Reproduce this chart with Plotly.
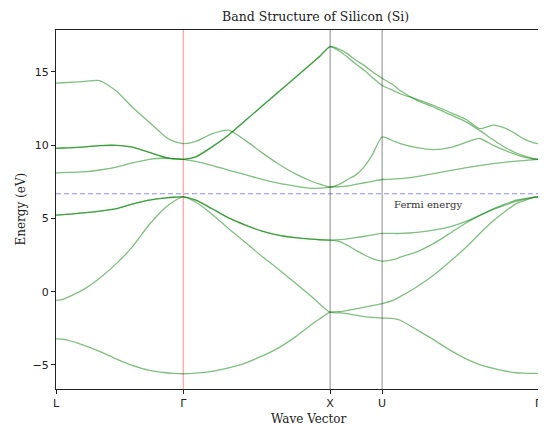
import plotly.graph_objects as go

# k-path positions (L, Gamma, X, U, Gamma) in units of 2*pi/a
sym_k = [0.0, 0.866, 1.866, 2.220, 3.281]
sym_labels = ["L", "Γ", "X", "U", "Γ"]

# sample points along the path
k = [0.000, 0.047, 0.182, 0.297, 0.412, 0.520, 0.635, 0.749, 0.803, 0.866,
     0.952, 1.060, 1.175, 1.289, 1.397, 1.512, 1.627, 1.735, 1.796, 1.866,
     1.938, 1.985, 2.039, 2.100, 2.154, 2.220,
     2.302, 2.343, 2.457, 2.572, 2.680, 2.795, 2.883, 2.977, 3.065, 3.133, 3.180, 3.247, 3.281]

band_1 = [-3.22, -3.24, -3.63, -4.08, -4.60, -5.03, -5.37, -5.53, -5.58, -5.60,
          -5.56, -5.44, -5.20, -4.87, -4.42, -3.85, -3.10, -2.27, -1.85, -1.40,
          -1.36, -1.28, -1.18, -1.06, -0.95, -0.82,
          -0.56, -0.34, 0.34, 1.14, 2.04, 3.06, 3.95, 4.83, 5.54, 6.01, 6.18, 6.42, 6.46]
band_2 = [-0.59, -0.52, 0.12, 0.92, 1.93, 3.06, 4.58, 5.78, 6.17, 6.46,
          6.10, 5.30, 4.30, 3.35, 2.45, 1.55, 0.60, -0.30, -0.85, -1.40,
          -1.45, -1.50, -1.60, -1.70, -1.76, -1.80,
          -1.84, -1.95, -2.61, -3.29, -3.97, -4.60, -4.97, -5.23, -5.43, -5.53, -5.56, -5.58, -5.58]
band_3 = [5.22, 5.25, 5.37, 5.50, 5.67, 5.97, 6.24, 6.40, 6.44, 6.46,
          6.24, 5.67, 5.03, 4.54, 4.15, 3.86, 3.68, 3.58, 3.54, 3.52,
          3.55, 3.60, 3.68, 3.78, 3.87, 3.97,
          3.97, 3.97, 4.04, 4.20, 4.42, 4.81, 5.20, 5.62, 5.93, 6.17, 6.28, 6.42, 6.46]
band_4 = [5.22, 5.25, 5.37, 5.50, 5.67, 5.97, 6.24, 6.40, 6.44, 6.46,
          6.24, 5.67, 5.03, 4.54, 4.15, 3.86, 3.68, 3.58, 3.54, 3.52,
          3.40, 3.15, 2.84, 2.50, 2.25, 2.09,
          2.20, 2.35, 2.72, 3.29, 3.97, 4.72, 5.19, 5.65, 6.00, 6.24, 6.33, 6.43, 6.46]
band_5 = [8.10, 8.12, 8.17, 8.30, 8.50, 8.78, 9.03, 9.10, 9.08, 9.03,
          8.89, 8.62, 8.28, 7.98, 7.67, 7.40, 7.20, 7.05, 7.06, 7.14,
          7.17, 7.22, 7.32, 7.43, 7.53, 7.65,
          7.69, 7.71, 7.85, 8.05, 8.25, 8.46, 8.60, 8.74, 8.84, 8.90, 8.94, 9.00, 9.03]
band_6 = [9.78, 9.80, 9.86, 9.96, 9.98, 9.86, 9.50, 9.14, 9.06, 9.03,
          9.20, 9.86, 10.69, 11.68, 12.61, 13.61, 14.60, 15.53, 16.06, 16.72,
          16.50, 16.22, 15.80, 15.42, 15.00, 14.56,
          14.05, 13.72, 13.05, 12.59, 12.09, 11.57, 11.00, 10.35, 9.80, 9.46, 9.28, 9.08, 9.03]
band_7 = [9.78, 9.80, 9.86, 9.96, 9.98, 9.86, 9.50, 9.14, 9.06, 9.03,
          9.20, 9.86, 10.69, 11.68, 12.61, 13.61, 14.60, 15.53, 16.06, 16.72,
          16.35, 15.99, 15.55, 15.08, 14.60, 14.06,
          13.70, 13.50, 13.12, 12.70, 12.24, 11.73, 11.12, 11.36, 11.12, 10.75, 10.44, 10.17, 10.10]
band_8 = [14.22, 14.25, 14.33, 14.40, 13.67, 12.58, 11.56, 10.54, 10.25, 10.10,
          10.25, 10.77, 11.02, 10.32, 9.52, 8.73, 8.05, 7.55, 7.33, 7.14,
          7.37, 7.65, 7.95, 8.55, 9.35, 10.55,
          10.25, 10.10, 9.82, 9.69, 9.82, 10.20, 10.45, 9.98, 9.60, 9.35, 9.20, 9.07, 9.03]

bands = [band_1, band_2, band_3, band_4, band_5, band_6, band_7, band_8]
fermi_energy = 6.68

serif = "DejaVu Serif"
sans = "DejaVu Sans"

fig = go.Figure()

# high-symmetry vertical lines
fig.add_shape(type="line", xref="x", yref="paper", x0=sym_k[1], x1=sym_k[1], y0=0, y1=1,
              line=dict(color="rgba(255,0,0,0.45)", width=1))
for kk in (sym_k[2], sym_k[3]):
    fig.add_shape(type="line", xref="x", yref="paper", x0=kk, x1=kk, y0=0, y1=1,
                  line=dict(color="rgba(0,0,0,0.45)", width=1))

for b in bands:
    fig.add_trace(go.Scatter(x=k, y=b, mode="lines",
                             line=dict(color="rgba(0,128,0,0.5)", width=1.3, shape="spline", smoothing=0.6),
                             showlegend=False, hoverinfo="skip"))

fig.add_shape(type="line", xref="paper", yref="y", x0=0, x1=1, y0=fermi_energy, y1=fermi_energy,
              line=dict(color="rgba(0,0,255,0.45)", width=1.2, dash="5px,3px"))

fig.add_annotation(x=2.289, y=5.97, xref="x", yref="y", text="Fermi energy", showarrow=False,
                   xanchor="left", yanchor="middle", font=dict(family=serif, size=10, color="#333"))

fig.add_annotation(x=0.539, y=1.0, xref="paper", yref="paper", yshift=14, text="Band Structure of Silicon (Si)",
                   showarrow=False, xanchor="center", yanchor="middle", font=dict(family=serif, size=12.5, color="#222"))
fig.add_annotation(x=0.525, y=0, xref="paper", yref="paper", yshift=-30, text="Wave Vector",
                   showarrow=False, xanchor="center", yanchor="middle", font=dict(family=serif, size=12, color="#222"))
fig.add_annotation(x=0, y=0.5, xref="paper", yref="paper", xshift=-36, text="Energy (eV)", textangle=-90,
                   showarrow=False, xanchor="center", yanchor="middle", font=dict(family=serif, size=12, color="#222"))

# the page body has an 8px margin, so the figure is sized to fill the rest of the window;
# the x axis may push the right margin just enough to keep the final Γ label visible
fig.update_layout(
    width=538, height=418,
    margin=dict(l=48, r=4, t=22, b=37),
    plot_bgcolor="white", paper_bgcolor="white",
    xaxis=dict(range=[sym_k[0], sym_k[-1]], tickvals=sym_k, ticktext=sym_labels, automargin=True,
               showline=True, mirror=True, linecolor="#222", linewidth=1,
               ticks="outside", ticklen=4, tickcolor="#222", showgrid=False, zeroline=False,
               tickfont=dict(family=sans, size=11, color="#222")),
    yaxis=dict(range=[-6.64, 17.85], tickvals=[-5, 0, 5, 10, 15], automargin=False,
               showline=True, mirror=True, linecolor="#222", linewidth=1,
               ticks="outside", ticklen=4, tickcolor="#222", showgrid=False, zeroline=False,
               tickfont=dict(family=sans, size=11, color="#222")),
)

fig.write_html("out.html")
